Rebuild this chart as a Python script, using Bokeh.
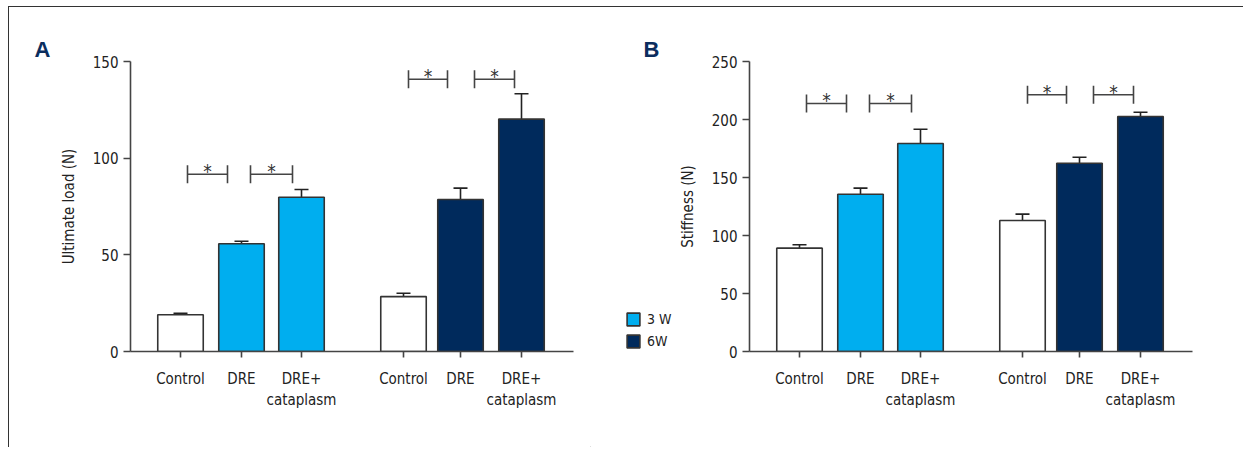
from bokeh.plotting import figure
from bokeh.models import Range1d, FixedTicker, Label, Legend, LegendItem, ColumnDataSource
from bokeh.layouts import row
from bokeh.embed import file_html
from bokeh.resources import INLINE
from bokeh.core.properties import value

# ---------------- data ----------------
categories = ["Control", "DRE", "DRE+\ncataplasm"]
weeks = ["3 W", "6W"]
load_3w = [19.0, 55.7, 79.8]
load_3w_err = [0.8, 1.3, 4.0]
load_6w = [28.4, 78.6, 120.2]
load_6w_err = [1.7, 5.9, 13.1]
stiff_3w = [89.1, 135.6, 179.3]
stiff_3w_err = [2.9, 5.2, 12.3]
stiff_6w = [112.9, 162.3, 202.6]
stiff_6w_err = [5.5, 5.2, 3.7]
load_ticks = [0, 50, 100, 150]
stiff_ticks = [0, 50, 100, 150, 200, 250]
load_sig = [91.7, 140.8]      # significance bracket levels (3 W, 6W)
stiff_sig = [213.8, 221.3]

# ---------------- layout / style ----------------
FONT = "'Liberation Sans Narrow', 'DejaVu Sans Condensed', Roboto, sans-serif"
FS = "15px"
C3 = "#00aeef"
C6 = "#002a5c"
INK = "#222222"
AX = "#444444"
H = 440
X_POS = [50, 111, 171, 273, 330, 391]     # bar centres on a 0..443 px-like axis
BAR_W = 45.5
BRACKETS = [(57, 97), (120, 162), (278, 317), (344, 384)]
FRAME_H = 290


def blank(width):
    f = figure(width=width, height=H, x_range=Range1d(0, width), y_range=Range1d(0, H),
               output_backend="svg", toolbar_location=None, min_border=0,
               x_axis_location=None, y_axis_location=None, frame_align=False)
    f.outline_line_color = None
    f.grid.visible = False
    return f


def letter_label(text, x):
    return Label(x=x, y=398, text=text, text_baseline="alphabetic",
                 text_font="Liberation Sans", text_font_style="bold",
                 text_font_size="22px", text_color="#0b2d5e")


def panel(v3, e3, v6, e6, ymax, yticks, ylabel, sig, width, mb_left, mb_right):
    p = figure(width=width, height=H, x_range=Range1d(0, 443), y_range=Range1d(0, ymax),
               output_backend="svg", toolbar_location=None,
               min_border_left=mb_left, min_border_right=mb_right,
               min_border_top=54, min_border_bottom=96)
    p.outline_line_color = None
    p.xgrid.visible = False
    p.ygrid.visible = False

    tops = v3 + v6
    errs = e3 + e6
    fills = ["white", C3, C3, "white", C6, C6]
    src = ColumnDataSource(dict(
        x=X_POS, top=tops, etop=[t + e for t, e in zip(tops, errs)],
        cx0=[x - 7 for x in X_POS], cx1=[x + 7 for x in X_POS], fill=fills))
    p.segment(x0="x", y0="top", x1="x", y1="etop", source=src, line_color=INK, line_width=1.6)
    p.segment(x0="cx0", y0="etop", x1="cx1", y1="etop", source=src, line_color=INK, line_width=1.6)
    p.vbar(x="x", top="top", bottom=0, width=BAR_W, fill_color="fill",
           line_color="#333333", line_width=1.6, source=src)

    # significance brackets
    half = 9 * ymax / FRAME_H
    levels = [sig[0], sig[0], sig[1], sig[1]]
    bx0 = [b[0] for b in BRACKETS]
    bx1 = [b[1] for b in BRACKETS]
    p.segment(x0=bx0, y0=levels, x1=bx1, y1=levels, line_color=AX, line_width=1.6)
    p.segment(x0=bx0 + bx1, y0=[l - half for l in levels] * 2, x1=bx0 + bx1,
              y1=[l + half for l in levels] * 2, line_color=AX, line_width=1.6)
    p.text(x=[(a + b) / 2 for a, b in BRACKETS], y=levels, text=["*"] * 4,
           text_align="center", text_baseline="alphabetic", y_offset=-3,
           text_font=value(FONT), text_font_size="19px", text_color="#333333")

    # axes
    xa = p.xaxis[0]
    xa.ticker = FixedTicker(ticks=X_POS)
    xa.major_label_overrides = {x: lab for x, lab in zip(X_POS, categories * 2)}
    ya = p.yaxis[0]
    ya.ticker = FixedTicker(ticks=yticks)
    ya.axis_label = ylabel
    for ax in (xa, ya):
        ax.axis_line_color = AX
        ax.axis_line_width = 1.6
        ax.major_tick_line_color = AX
        ax.major_tick_line_width = 1.6
        ax.major_tick_in = 0
        ax.minor_tick_line_color = None
        ax.major_label_text_font = FONT
        ax.major_label_text_font_size = FS
        ax.major_label_text_color = INK
        ax.axis_label_text_font = FONT
        ax.axis_label_text_font_size = FS
        ax.axis_label_text_font_style = "normal"
        ax.axis_label_text_color = INK
    xa.major_tick_out = 6
    xa.major_label_standoff = 12
    ya.major_tick_out = 7
    ya.major_label_standoff = 5
    ya.axis_label_standoff = 12
    return p


# left strip with panel letter A  (page x 9..54)
fa = blank(45)
fa.add_layout(letter_label("A", 25))

# panel A (page x 54..590)
pa = panel(load_3w, load_3w_err, load_6w, load_6w_err, 150, load_ticks, "Ultimate load (N)",
           load_sig, 536, 76, 17)

# middle strip: legend + panel letter B  (page x 590..673)
fl = blank(83)
proxy = dict(x=[-500], bottom=[-500], top=[-499])
r3 = fl.vbar(x=proxy["x"], bottom=proxy["bottom"], top=proxy["top"], width=1,
             fill_color=C3, line_color="#333333", line_width=1.6)
r6 = fl.vbar(x=proxy["x"], bottom=proxy["bottom"], top=proxy["top"], width=1,
             fill_color=C6, line_color="#333333", line_width=1.6)
lg = Legend(items=[LegendItem(label=weeks[0], renderers=[r3]),
                   LegendItem(label=weeks[1], renderers=[r6])],
            location=(35, 98), orientation="vertical",
            glyph_width=16, glyph_height=16, label_standoff=6, spacing=5,
            padding=0, margin=0, label_height=17,
            label_text_font=FONT, label_text_font_size="14px", label_text_color=INK,
            border_line_color=None, background_fill_alpha=0)
fl.add_layout(lg, "center")
fl.add_layout(letter_label("B", 53))

# panel B (page x 673..1243)
pb = panel(stiff_3w, stiff_3w_err, stiff_6w, stiff_6w_err, 250, stiff_ticks, "Stiffness (N)",
           stiff_sig, 570, 76, 51)

layout = row(fa, pa, fl, pb, margin=(6, 0, 0, 8),
             styles={"border-left": "1px solid #333", "border-top": "1px solid #333"})
open("out.html", "w").write(file_html(layout, INLINE))
